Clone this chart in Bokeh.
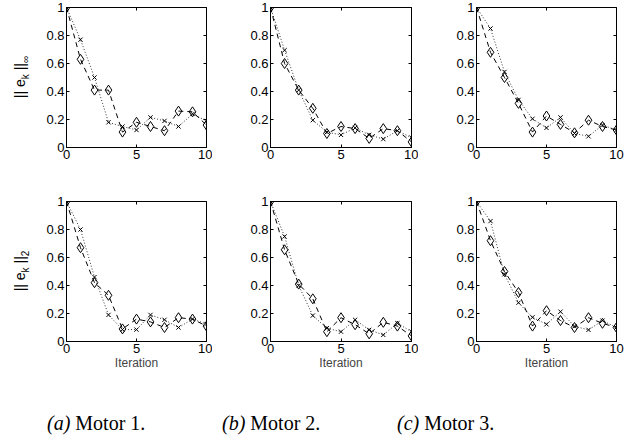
from bokeh.plotting import figure
from bokeh.layouts import column, row
from bokeh.models import FixedTicker, LinearAxis, Range1d, Div
from bokeh.embed import file_html
from bokeh.resources import INLINE

iterations = list(range(11))
x_ticks = [0, 5, 10]
y_ticks = [0, 0.2, 0.4, 0.6, 0.8, 1.0]
y_tick_labels = ["0", "0.2", "0.4", "0.6", "0.8", "1"]

# infinity norm (top row)
m1_inf_diamond = [1.0, 0.63, 0.41, 0.41, 0.11, 0.18, 0.15, 0.12, 0.26, 0.255, 0.16]
m1_inf_cross = [1.0, 0.77, 0.50, 0.18, 0.15, 0.125, 0.215, 0.19, 0.15, 0.24, 0.19]
m2_inf_diamond = [1.0, 0.60, 0.41, 0.28, 0.10, 0.15, 0.135, 0.065, 0.135, 0.12, 0.04]
m2_inf_cross = [1.0, 0.695, 0.41, 0.195, 0.11, 0.09, 0.14, 0.09, 0.06, 0.12, 0.07]
m3_inf_diamond = [1.0, 0.68, 0.50, 0.315, 0.11, 0.225, 0.165, 0.105, 0.195, 0.15, 0.125]
m3_inf_cross = [1.0, 0.85, 0.54, 0.34, 0.205, 0.14, 0.215, 0.10, 0.08, 0.16, 0.125]
# 2-norm (bottom row)
m1_two_diamond = [1.0, 0.67, 0.42, 0.33, 0.09, 0.16, 0.14, 0.10, 0.17, 0.16, 0.11]
m1_two_cross = [1.0, 0.80, 0.46, 0.19, 0.085, 0.085, 0.19, 0.155, 0.10, 0.16, 0.125]
m2_two_diamond = [1.0, 0.655, 0.41, 0.305, 0.07, 0.17, 0.12, 0.055, 0.137, 0.11, 0.04]
m2_two_cross = [1.0, 0.75, 0.40, 0.185, 0.095, 0.07, 0.155, 0.083, 0.047, 0.13, 0.07]
m3_two_diamond = [1.0, 0.72, 0.50, 0.35, 0.11, 0.22, 0.15, 0.10, 0.17, 0.13, 0.10]
m3_two_cross = [1.0, 0.86, 0.48, 0.277, 0.173, 0.123, 0.213, 0.109, 0.083, 0.149, 0.10]

ylabel_base = ("|| e", "k", " ||")
ylabel_inf_sub = "∞"
ylabel_two_sub = "2"
xlabel = "Iteration"
captions = [("(a)", "Motor 1."), ("(b)", "Motor 2."), ("(c)", "Motor 3.")]

SANS = "Liberation Sans"
overrides = {float(v): s for v, s in zip(y_ticks, y_tick_labels)}
blank_y = {float(v): "" for v in y_ticks}
blank_x = {float(v): "" for v in x_ticks}

LABEL_W = 43
# per column: (figure width, left border, right border)
COLS = [(212 - LABEL_W, 65 - LABEL_W, 6), (206, 58, 7), (212, 58, 14)]
TOP_H, BOTTOM_H = 175, 197


def make_fig(diamond, cross, col, top_row):
    w, bl, br = COLS[col]
    if top_row:
        h, bt, bb = TOP_H, 7, 28
    else:
        h, bt, bb = BOTTOM_H, 26, 30
    p = figure(width=w, height=h, output_backend="svg", toolbar_location=None,
               x_range=Range1d(0, 10), y_range=Range1d(0, 1),
               min_border_left=bl, min_border_right=br,
               min_border_top=bt, min_border_bottom=bb,
               background_fill_color="white", border_fill_color="white")
    p.grid.visible = False
    p.outline_line_color = "black"
    p.outline_line_width = 1
    p.outline_line_alpha = 1

    for ax, ticks in ((p.xaxis[0], x_ticks), (p.yaxis[0], y_ticks)):
        ax.ticker = FixedTicker(ticks=ticks)
        ax.major_tick_in = 3
        ax.major_tick_out = 0
        ax.minor_tick_line_color = None
        ax.axis_line_color = "black"
        ax.major_tick_line_color = "black"
        ax.major_label_text_font = SANS
        ax.major_label_text_font_size = "13px"
        ax.major_label_text_color = "black"
        ax.major_label_standoff = 2
    p.yaxis[0].major_label_overrides = overrides
    if not top_row:
        p.xaxis[0].axis_label = xlabel
        p.xaxis[0].axis_label_text_font = SANS
        p.xaxis[0].axis_label_text_font_style = "normal"
        p.xaxis[0].axis_label_text_font_size = "12px"
        p.xaxis[0].axis_label_standoff = 0

    # MATLAB-style inner ticks on the right and top
    right = LinearAxis(ticker=FixedTicker(ticks=y_ticks), major_tick_in=3, major_tick_out=0,
                       minor_tick_line_color=None, axis_line_color=None,
                       major_label_overrides=blank_y, major_label_standoff=0)
    top = LinearAxis(ticker=FixedTicker(ticks=x_ticks), major_tick_in=3, major_tick_out=0,
                     minor_tick_line_color=None, axis_line_color=None,
                     major_label_overrides=blank_x, major_label_standoff=0)
    p.add_layout(right, "right")
    p.add_layout(top, "above")

    p.line(iterations, cross, line_color="black", line_width=1, line_dash="1 2", line_alpha=0.8)
    p.scatter(iterations, cross, marker="x", size=6, line_color="black", line_width=1)
    p.line(iterations, diamond, line_color="black", line_width=1, line_dash="5 4")
    p.scatter(iterations, diamond, marker="diamond", size=10, line_color="black",
              fill_color=None, line_width=1)
    return p


def ylabel_div(sub, height, center_y):
    a, k, b = ylabel_base
    html = (f'<div style="position:relative;width:{LABEL_W}px;height:{height}px;">'
            f'<span style="position:absolute;left:22px;top:{center_y}px;white-space:nowrap;'
            f'transform:translate(-50%,-50%) rotate(-90deg);font-family:\'{SANS}\';'
            f'font-size:14px;color:black;line-height:1;">'
            f'{a}<sub style="font-size:10px;">{k}</sub>{b}'
            f'<sub style="font-size:10px;">{sub}</sub></span></div>')
    return Div(text=html, width=LABEL_W, height=height, margin=0)


f1 = make_fig(m1_inf_diamond, m1_inf_cross, 0, True)
f2 = make_fig(m2_inf_diamond, m2_inf_cross, 1, True)
f3 = make_fig(m3_inf_diamond, m3_inf_cross, 2, True)
f4 = make_fig(m1_two_diamond, m1_two_cross, 0, False)
f5 = make_fig(m2_two_diamond, m2_two_cross, 1, False)
f6 = make_fig(m3_two_diamond, m3_two_cross, 2, False)

lab_top = ylabel_div(ylabel_inf_sub, TOP_H, 77)
lab_bottom = ylabel_div(ylabel_two_sub, BOTTOM_H, 96)

lefts = [47, 222, 397]
spans = "".join(
    f'<span style="position:absolute;left:{l}px;top:37px;white-space:nowrap;">'
    f'<i>{a}</i> {b}</span>'
    for l, (a, b) in zip(lefts, captions)
)
cap = Div(text=f'<div style="position:relative;width:630px;height:68px;'
               f'font-family:\'Liberation Serif\';font-size:20px;color:black;">{spans}</div>',
          width=630, height=68, margin=0)

layout = column(row(lab_top, f1, f2, f3, spacing=0), row(lab_bottom, f4, f5, f6, spacing=0),
                cap, spacing=0)

open("out.html", "w").write(file_html(layout, INLINE))
